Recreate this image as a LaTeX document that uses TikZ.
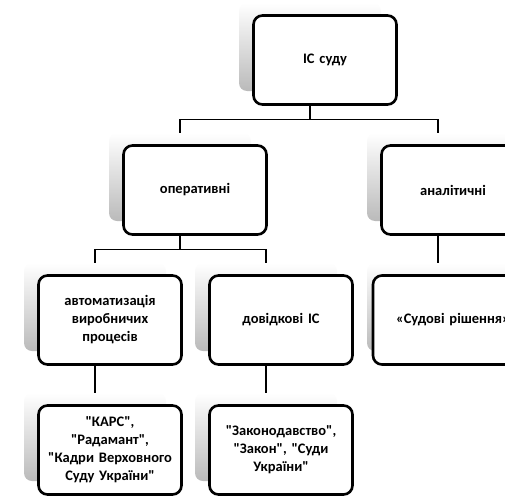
\documentclass[tikz,border=0pt]{standalone}
\usepackage{fontspec}
\setmainfont{Carlito}[Ligatures=TeXOff]
\usepackage{tikz}

\begin{document}
\begin{tikzpicture}[x=1pt,y=-1pt,
  back/.style={rounded corners=8pt, minimum width=142pt, minimum height=88pt,
    inner sep=0pt, top color=white, bottom color=black!27},
  card/.style={draw, line width=2.6pt, rounded corners=9pt, fill=white,
    minimum width=143pt, minimum height=89pt, inner sep=0pt,
    text width=136pt, align=center,
    font=\fontsize{14.5}{18}\selectfont\bfseries},
  link/.style={line width=1.4pt}]
  \clip (0,0) rectangle (505,495);
  % level shapes
  \node[back] (sudbg) at (310,47) {};
  \node[back] (operbg) at (180,177) {};
  \node[back] (analbg) at (438,177) {};
  \node[back] (avtobg) at (95,307) {};
  \node[back] (dovidbg) at (266,307) {};
  \node[back] (rishbg) at (438,307) {};
  \node[back] (karsbg) at (95,437) {};
  \node[back] (zakonbg) at (266,437) {};
  % connectors
  \draw[link] (sudbg.south) -- ++(0,28) -| (operbg.north);
  \draw[link] (sudbg.south) -- ++(0,28) -| (analbg.north);
  \draw[link] (operbg.south) -- ++(0,28) -| (avtobg.north);
  \draw[link] (operbg.south) -- ++(0,28) -| (dovidbg.north);
  \draw[link] (analbg.south) -- (rishbg.north);
  \draw[link] (avtobg.south) -- (karsbg.north);
  \draw[link] (dovidbg.south) -- (zakonbg.north);
  % text boxes
  \node[card] (sud) at (325,60) {ІС суду};
  \node[card] (oper) at (195,190) {оперативні};
  \node[card] (anal) at (453,190) {аналітичні};
  \node[card] (avto) at (110,320) {автоматизація\\виробничих\\процесів};
  \node[card] (dovid) at (281,320) {довідкові ІС};
  \node[card, text width=160pt] (rish) at (453,320) {«Судові рішення»};
  \node[card] (kars) at (110,450) {"КАРС",\\"Радамант",\\"Кадри Верховного\\Суду України"};
  \node[card] (zakon) at (281,450) {"Законодавство",\\"Закон", "Суди\\України"};
\end{tikzpicture}
\end{document}
